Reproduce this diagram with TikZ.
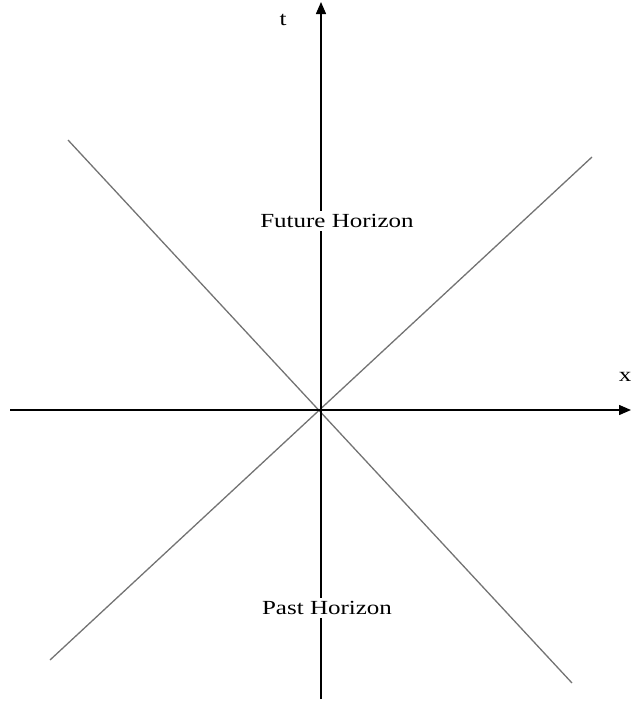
\documentclass[tikz,border=0pt]{standalone}
\usepackage{fontspec}
\newfontfamily\labelfont[FakeStretch=1.25]{Liberation Serif}
\usetikzlibrary{arrows.meta}

\begin{document}
\begin{tikzpicture}[x=1pt,y=-1pt,every node/.style={font=\labelfont\fontsize{20}{22}\selectfont,inner sep=0pt},>={Triangle[length=12pt,width=10pt]}]
\useasboundingbox (0,0) rectangle (632,702);
\coordinate (tb) at (321,699);
\coordinate (tt) at (321,2);
\coordinate (xl) at (10,410);
\coordinate (xr) at (631,410);
\coordinate (ul) at (68,140);
\coordinate (lr) at (572,683);
\coordinate (ur) at (592,157);
\coordinate (ll) at (50,660);
\draw[gray!90!black,line width=1.3pt] (ul)--(lr);\draw[gray!90!black,line width=1.3pt] (ur)--(ll);
\draw[->,line width=1.4pt] (xl)--(xr);\draw[->,line width=1.4pt] (tb)--(tt);
\node (t) at (283,20) {t};
\node (x) at (625,377) {x};
\node[fill=white,inner sep=3pt] (fut) at (337,221) {Future Horizon};
\node[fill=white,inner sep=3pt] (past) at (327,608) {Past Horizon};
\end{tikzpicture}
\end{document}
